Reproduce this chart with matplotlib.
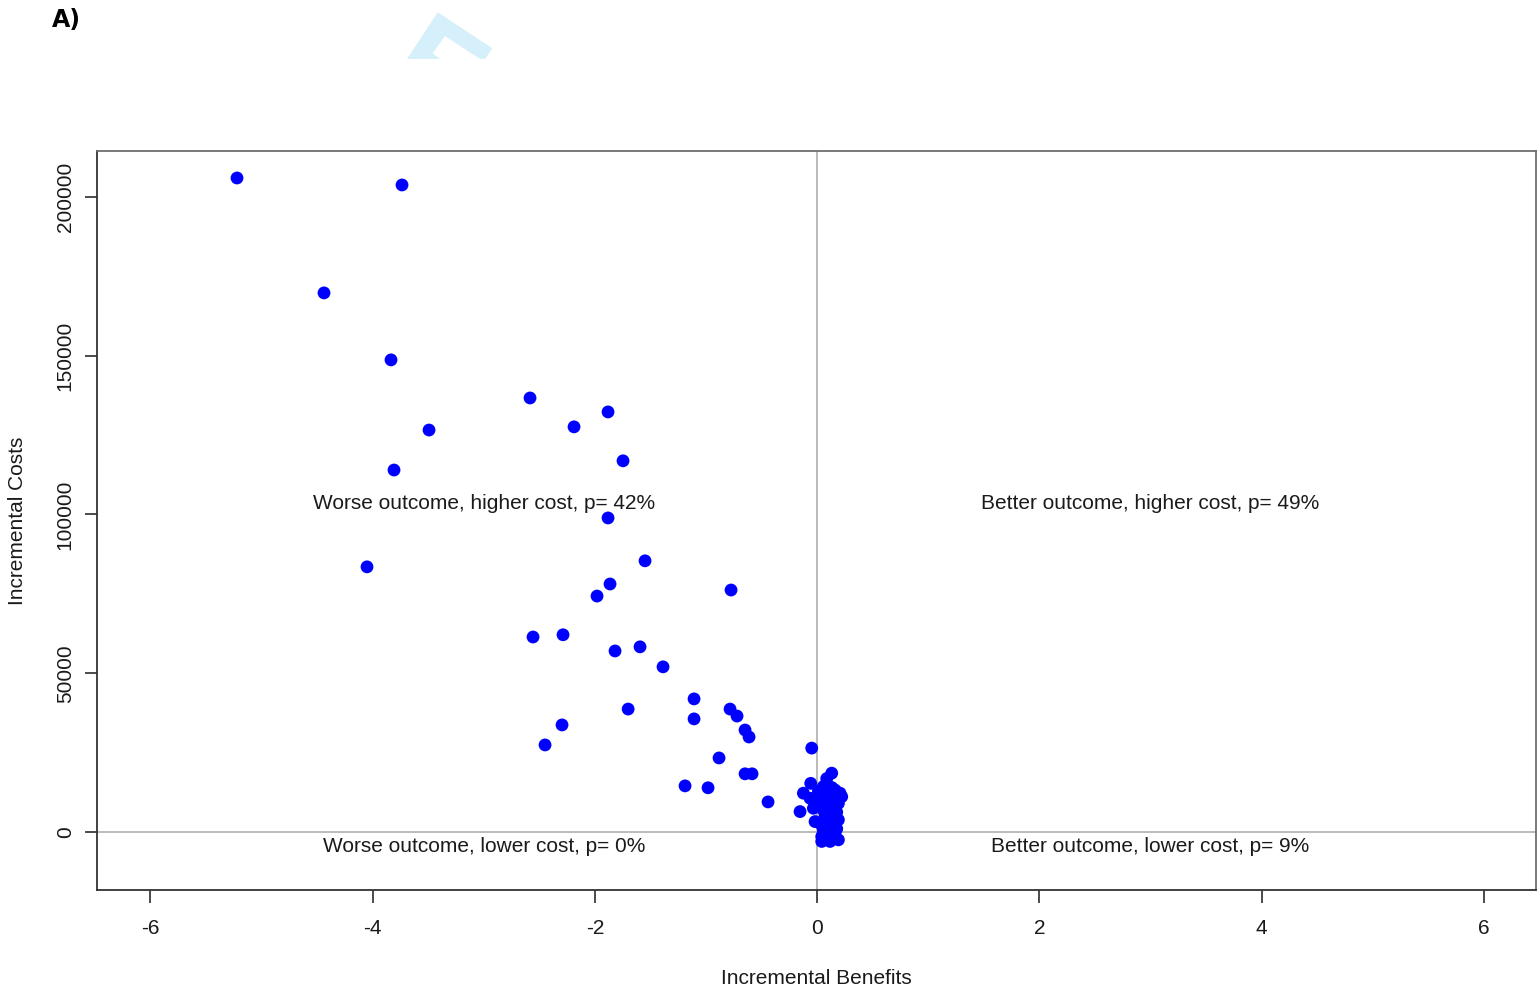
import numpy as np
import matplotlib
matplotlib.use("Agg")
import matplotlib.pyplot as plt
from matplotlib.patches import Polygon

plt.rcParams["font.family"] = ["Liberation Sans", "DejaVu Sans"]

# bootstrap replicates: incremental benefit (x) and incremental cost (y)
inc_benefit = [
    -5.22, -3.735, -4.437, -3.834, -2.583, -1.881, -3.492, -2.187, -3.807,
    -1.746, -1.881, -4.05, -1.548, -1.863, -1.98, -0.774, -2.556, -2.286,
    -1.593, -1.818, -1.386, -1.107, -1.70, -1.107, -0.783, -0.72, -2.295,
    -2.448, -0.648, -0.612, -0.882, -0.648, -0.585, -1.188, -0.981, -0.441,
    -0.048, -0.057, -0.123, -0.063, -0.153, -0.018, -0.033,
    0.132, 0.087, 0.057, 0.207, 0.027, 0.192, 0.057, 0.192, 0.027, 0.147,
    0.042, 0.192, 0.042, 0.117, 0.087, 0.147, 0.102, 0.117, 0.222, 0.162,
    0.072, 0.162, 0.102, 0.177, 0.132, 0.072, 0.102, 0.162, 0.177, 0.012,
    0.132, 0.087, 0.162, 0.057,
]
inc_cost = [
    206000, 203800, 169800, 148700, 136700, 132300, 126600, 127600, 114000,
    116900, 98900, 83500, 85400, 78100, 74300, 76200, 61400, 62100,
    58300, 57000, 52000, 41900, 38700, 35600, 38700, 36500, 33700,
    27400, 32100, 29900, 23300, 18300, 18300, 14500, 13900, 9450,
    26400, 15300, 12200, 10600, 6400, 3250, 7450,
    18500, 16800, 14300, 12200, 10100, 9000, 6900, 3800, 2700, 1700,
    -1500, -2500, -3000, -3000, 4800, 10600, 12600, 100, 11100, 8200,
    11500, 5600, 9000, 6200, 14000, 5200, 2400, -500, 1000, 12800,
    7600, -2000, 13200, 600,
]

quad_labels = [
    "Worse outcome, higher cost, p= 42%",
    "Better outcome, higher cost, p= 49%",
    "Worse outcome, lower cost, p= 0%",
    "Better outcome, lower cost, p= 9%",
]
quad_x = [-3, 3, -3, 3]
quad_y = [103600, 103600, -4700, -4700]

x_ticks = [-6, -4, -2, 0, 2, 4, 6]
y_ticks = [0, 50000, 100000, 150000, 200000]

fig = plt.figure(figsize=(15.4, 9.86), dpi=100)
ax = fig.add_axes([97 / 1540, 96 / 986, 1439 / 1540, 739 / 986])

ax.axvline(0, color="#a8a8a8", lw=1.1, zorder=1)
ax.axhline(0, color="#a8a8a8", lw=1.1, zorder=1)
ax.scatter(inc_benefit, inc_cost, s=85, color="#0000ff", edgecolors="none",
           zorder=3)

for lab, tx, ty in zip(quad_labels, quad_x, quad_y):
    ax.text(tx, ty, lab, ha="center", va="center", fontsize=15,
            color="#1a1a1a", zorder=4)

ax.set_xlim(-6.48, 6.47)
ax.set_ylim(-18300, 214500)
ax.set_xticks(x_ticks)
ax.set_xticklabels([str(t) for t in x_ticks])
ax.set_yticks(y_ticks)
ax.set_yticklabels([str(t) for t in y_ticks], rotation=90, va="center")
ax.tick_params(direction="out", length=9, width=1.1, colors="#1a1a1a",
               labelsize=15, pad=12)
ax.tick_params(axis="y", pad=7)

for side in ("top", "right"):
    ax.spines[side].set_color("#6e6e6e")
for side in ("left", "bottom"):
    ax.spines[side].set_color("#333333")
for sp in ax.spines.values():
    sp.set_linewidth(1.3)

ax.set_xlabel("Incremental Benefits", fontsize=15, color="#1a1a1a",
              labelpad=22)
ax.set_ylabel("Incremental Costs", fontsize=15, color="#1a1a1a", labelpad=21)

fig.text(52 / 1540, 1 - 20 / 986, "A)", fontsize=17, fontweight="bold",
         family="DejaVu Sans", ha="left", va="center")

# light blue stamp fragment at the top of the page
stamp = [(407, 59), (437.7, 12.3), (492.3, 48.3), (485, 59), (480, 59),
         (445, 36), (432.7, 53.3), (440, 59)]
fig.patches.append(Polygon([(px / 1540, 1 - py / 986) for px, py in stamp],
                           closed=True, transform=fig.transFigure,
                           facecolor="#d5effb", edgecolor="none"))

fig.savefig("out.png", dpi=100)
